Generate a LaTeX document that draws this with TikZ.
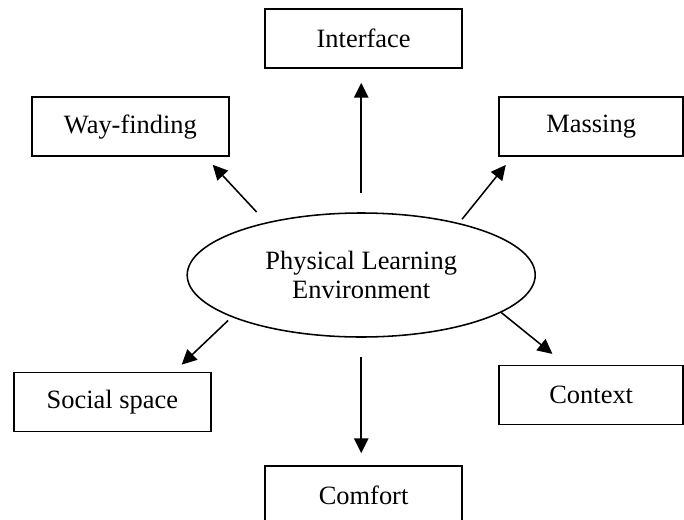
\documentclass[tikz,border=0pt]{standalone}
\usepackage{fontspec}
\setmainfont{Liberation Serif}
\usetikzlibrary{shapes.geometric,arrows.meta}

\begin{document}
\begin{tikzpicture}[>={Triangle[length=0.37cm,width=0.36cm]},line width=1.1pt]
    \tikzstyle{every node}=[font=\fontsize{18.8}{20}\selectfont]
    \tikzstyle{factor}=[draw,rectangle,minimum width=4.925cm,minimum height=1.475cm,inner sep=0pt]
    \tikzstyle{edgefactor}=[factor,minimum width=4.6cm]

    \clip (0,0) rectangle (17.1,12.975);

    \node[ellipse,draw,minimum width=8.7cm,minimum height=3.1cm,inner sep=0pt,align=center]
    (env) at (9.03,6.1) {Physical Learning\\Environment};

    \node[factor] (iface) at (9.09,12.01) {Interface};
    \node[factor] (way) at (3.26,9.81) {Way-finding};
    \node[edgefactor] (mass) at (14.78,9.81) {Massing};
    \node[factor] (social) at (2.81,2.93) {Social space};
    \node[edgefactor] (context) at (14.78,3.1) {Context};
    \node[factor] (comfort) at (9.09,0.59) {Comfort};

    % arrows out of the ellipse
    \draw[->,shorten <=0.47cm,shorten >=0.35cm] (env.north) -- (env.north |- iface.south);
    \draw[->,shorten <=0.35cm,shorten >=0.27cm] (env.151) -- (way.-22);
    \draw[->,shorten <=0.12cm,shorten >=0.26cm] (env.28) -- (mass.201);
    \draw[->,shorten <=0.12cm,shorten >=0.25cm] (env.198) -- (social.26);
    \draw[->,shorten >=0.43cm] (env.-15) -- (context.130);
    \draw[->,shorten <=0.47cm,shorten >=0.3cm] (env.south) -- (env.south |- comfort.north);
\end{tikzpicture}
\end{document}
